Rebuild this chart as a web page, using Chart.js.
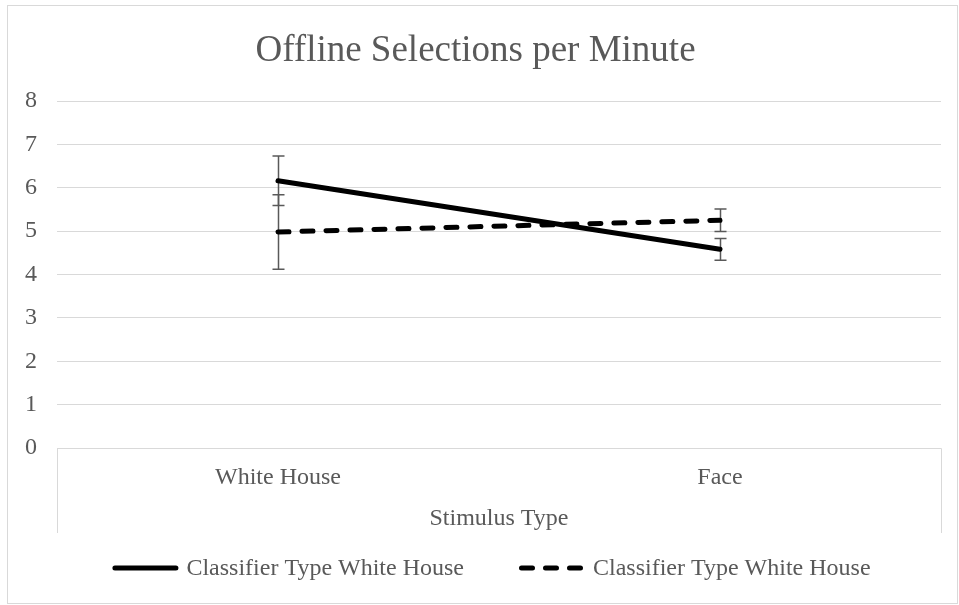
<!DOCTYPE html>
<html>
<head>
<meta charset="utf-8">
<script src="https://cdn.jsdelivr.net/npm/chart.js@4"></script>
<style>
  html, body { margin: 0; padding: 0; background: #fff; }
  canvas { display: block; }
</style>
</head>
<body>
<canvas id="sel-chart" width="959" height="605"></canvas>
<script>
// values
const categories = ["White House", "Face"];
const solidValues = [6.16, 4.58];
const solidErrors = [0.57, 0.25];
const dashedValues = [4.98, 5.25];
const dashedErrors = [0.86, 0.26];
const yTicks = [0, 1, 2, 3, 4, 5, 6, 7, 8];
const seriesLabels = ["Classifier Type White House", "Classifier Type White House"];

const FONT = "'Liberation Serif', 'Times New Roman', serif";
const TEXT = "#595959";
const GRID = "#d9d9d9";

// error bars, drawn under the lines
const errorBars = {
  id: "errorBars",
  beforeDatasetsDraw(chart) {
    const { ctx, scales } = chart;
    const errs = [solidErrors, dashedErrors];
    ctx.save();
    ctx.strokeStyle = "#595959";
    ctx.lineWidth = 1.5;
    chart.data.datasets.forEach((ds, i) => {
      const meta = chart.getDatasetMeta(i);
      meta.data.forEach((pt, j) => {
        const v = ds.data[j];
        const top = scales.y.getPixelForValue(v + errs[i][j]);
        const bot = scales.y.getPixelForValue(v - errs[i][j]);
        const x = Math.round(pt.x) + 0.5;
        ctx.beginPath();
        ctx.moveTo(x, top);
        ctx.lineTo(x, bot);
        ctx.moveTo(x - 6, top);
        ctx.lineTo(x + 6, top);
        ctx.moveTo(x - 6, bot);
        ctx.lineTo(x + 6, bot);
        ctx.stroke();
      });
    });
    ctx.restore();
  },
};

// outer frame, category axis box and the legend row
const frame = {
  id: "frame",
  afterDraw(chart) {
    const { ctx, chartArea, scales } = chart;
    ctx.save();
    ctx.strokeStyle = GRID;
    ctx.lineWidth = 1;
    ctx.strokeRect(7.5, 5.5, 950, 598);

    const l = Math.round(chartArea.left) + 0.5;
    const r = Math.round(chartArea.right) + 0.5;
    const t = Math.round(chartArea.bottom) + 0.5;
    const b = Math.round(scales.x.bottom);
    ctx.beginPath();
    ctx.moveTo(l, b);
    ctx.lineTo(l, t);
    ctx.lineTo(r, t);
    ctx.lineTo(r, b);
    ctx.stroke();

    // legend
    ctx.font = "24px " + FONT;
    ctx.textBaseline = "middle";
    ctx.textAlign = "left";
    const lineLen = 66, gap = 8, itemGap = 55;
    const widths = chart.data.datasets.map((ds) => ctx.measureText(ds.label).width);
    const total = widths.reduce((a, w) => a + lineLen + gap + w, 0) + itemGap;
    let x = chart.width / 2 + 12 - total / 2;
    const y = 568;
    chart.data.datasets.forEach((ds, i) => {
      ctx.save();
      ctx.strokeStyle = ds.borderColor;
      ctx.lineWidth = ds.borderWidth;
      ctx.lineCap = "round";
      ctx.setLineDash(ds.borderDash || []);
      ctx.beginPath();
      ctx.moveTo(x + 2.5, y);
      ctx.lineTo(x + lineLen - 2.5, y);
      ctx.stroke();
      ctx.restore();
      ctx.fillStyle = TEXT;
      ctx.fillText(ds.label, x + lineLen + gap, y + 1);
      x += lineLen + gap + widths[i] + itemGap;
    });
    ctx.restore();
  },
};

new Chart(document.getElementById("sel-chart"), {
  type: "line",
  data: {
    labels: categories,
    datasets: [
      {
        label: seriesLabels[0],
        data: solidValues,
        borderColor: "#000000",
        backgroundColor: "#000000",
        borderWidth: 5,
        borderCapStyle: "round",
        pointRadius: 0,
        tension: 0,
      },
      {
        label: seriesLabels[1],
        data: dashedValues,
        borderColor: "#000000",
        backgroundColor: "#000000",
        borderWidth: 5,
        borderDash: [11, 13],
        borderCapStyle: "round",
        pointRadius: 0,
        tension: 0,
      },
    ],
  },
  options: {
    responsive: false,
    animation: false,
    devicePixelRatio: 1,
    layout: {
      padding: { left: 10, right: 18, top: 5, bottom: 72 },
    },
    scales: {
      x: {
        offset: true,
        grid: { display: false },
        border: { display: false },
        ticks: {
          color: TEXT,
          font: { family: FONT, size: 24 },
          padding: 7,
        },
        title: {
          display: true,
          text: "Stimulus Type",
          color: TEXT,
          font: { family: FONT, size: 24 },
          padding: { top: 0, bottom: 0 },
        },
        afterFit(scale) {
          scale.height = 85;
        },
      },
      y: {
        min: 0,
        max: 8,
        afterBuildTicks(scale) {
          scale.ticks = yTicks.map((v) => ({ value: v }));
        },
        grid: { color: GRID, lineWidth: 1, drawTicks: false },
        border: { display: false },
        ticks: {
          color: TEXT,
          font: { family: FONT, size: 24 },
          padding: 20,
        },
        afterFit(scale) {
          scale.width = 47;
        },
      },
    },
    plugins: {
      legend: { display: false },
      tooltip: { enabled: false },
      title: {
        display: true,
        text: "Offline Selections per Minute",
        color: TEXT,
        font: { family: FONT, size: 37, weight: "normal" },
        padding: { top: 24, bottom: 27.6 },
      },
    },
  },
  plugins: [errorBars, frame],
});
</script>
</body>
</html>
